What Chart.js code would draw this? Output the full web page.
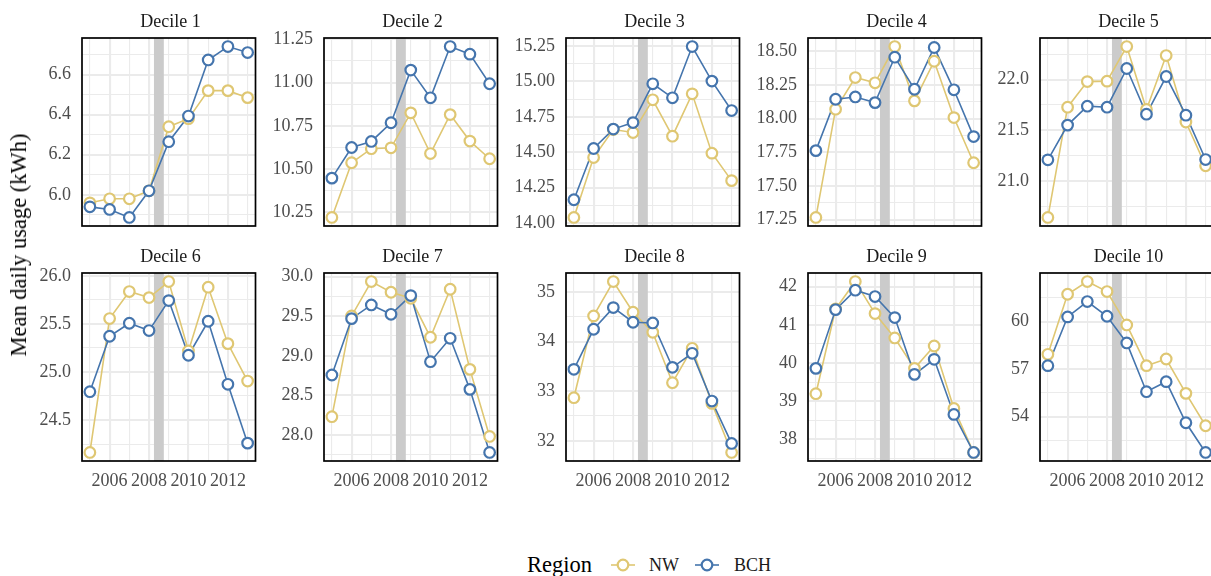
<!DOCTYPE html>
<html>
<head>
<meta charset="utf-8">
<script src="https://cdn.jsdelivr.net/npm/chart.js@4.4.1/dist/chart.umd.min.js"></script>
<style>
  html, body { margin: 0; padding: 0; background: #ffffff; }
  body { width: 1211px; height: 576px; position: relative; overflow: hidden;
         font-family: 'Liberation Serif', 'Times New Roman', serif; }
  canvas { position: absolute; z-index: 1; }
  .strip { position: absolute; z-index: 2; font-size: 18px; line-height: 24px; color: #1a1a1a;
           white-space: nowrap; transform: translate(-50%, -50%); }
  .ytitle { position: absolute; z-index: 2; font-size: 22.5px; line-height: 28px; color: #000;
            white-space: nowrap; left: 19px; top: 245px;
            transform: translate(-50%, -50%) rotate(-90deg); }
  .leg { position: absolute; z-index: 2; white-space: nowrap; transform: translateY(-50%); }
  .leg-title { font-size: 22.5px; line-height: 28px; color: #000; }
  .leg-text { font-size: 18px; line-height: 24px; color: #1a1a1a; }
  .leg-key { position: absolute; z-index: 2; }
</style>
</head>
<body>
<script>
// ---- data -------------------------------------------------------------
const years = [2005, 2006, 2007, 2008, 2009, 2010, 2011, 2012, 2013];
const xTickLabels = ['2006', '2008', '2010', '2012'];
const deciles = ['Decile 1', 'Decile 2', 'Decile 3', 'Decile 4', 'Decile 5',
                 'Decile 6', 'Decile 7', 'Decile 8', 'Decile 9', 'Decile 10'];
const regions = ['NW', 'BCH'];

// mean daily usage (kWh), one row per decile, 2005..2013
const nwUsage = [
  [5.96, 5.98, 5.98, 6.02, 6.34, 6.38, 6.52, 6.52, 6.485],
  [10.221, 10.537, 10.618, 10.623, 10.825, 10.59, 10.815, 10.662, 10.56],
  [14.04, 14.463, 14.661, 14.64, 14.871, 14.614, 14.913, 14.494, 14.30],
  [17.267, 18.07, 18.305, 18.266, 18.535, 18.132, 18.426, 18.008, 17.673],
  [20.638, 21.727, 21.98, 21.984, 22.326, 21.704, 22.237, 21.58, 21.148],
  [24.163, 25.556, 25.837, 25.774, 25.941, 25.219, 25.882, 25.295, 24.906],
  [28.232, 29.503, 29.937, 29.802, 29.726, 29.234, 29.84, 28.829, 27.983],
  [32.87, 34.522, 35.216, 34.596, 34.19, 33.173, 33.868, 32.755, 31.764],
  [39.197, 41.415, 42.131, 41.293, 40.655, 39.86, 40.445, 38.812, 37.66],
  [57.937, 61.726, 62.526, 61.895, 59.789, 57.221, 57.642, 55.474, 53.432]
];
const bchUsage = [
  [5.94, 5.927, 5.887, 6.02, 6.265, 6.393, 6.673, 6.74, 6.71],
  [10.448, 10.625, 10.66, 10.768, 11.072, 10.912, 11.208, 11.164, 10.993],
  [14.165, 14.527, 14.664, 14.71, 14.984, 14.885, 15.247, 15.003, 14.795],
  [17.763, 18.144, 18.161, 18.119, 18.456, 18.218, 18.528, 18.214, 17.867],
  [21.207, 21.55, 21.737, 21.727, 22.109, 21.658, 22.03, 21.648, 21.21],
  [24.795, 25.372, 25.507, 25.431, 25.743, 25.174, 25.528, 24.872, 24.26],
  [28.758, 29.469, 29.642, 29.524, 29.76, 28.926, 29.221, 28.577, 27.781],
  [33.443, 34.252, 34.69, 34.394, 34.38, 33.483, 33.767, 32.802, 31.946],
  [39.86, 41.397, 41.904, 41.738, 41.188, 39.703, 40.096, 38.655, 37.66],
  [57.221, 60.295, 61.263, 60.337, 58.653, 55.579, 56.211, 53.621, 51.747]
];
const yTickLabels = [
  ['6.0', '6.2', '6.4', '6.6'],
  ['10.25', '10.50', '10.75', '11.00', '11.25'],
  ['14.00', '14.25', '14.50', '14.75', '15.00', '15.25'],
  ['17.25', '17.50', '17.75', '18.00', '18.25', '18.50'],
  ['21.0', '21.5', '22.0'],
  ['24.5', '25.0', '25.5', '26.0'],
  ['28.0', '28.5', '29.0', '29.5', '30.0'],
  ['32', '33', '34', '35'],
  ['38', '39', '40', '41', '42'],
  ['54', '57', '60']
];
// shaded period on every panel
const shadeStart = 2008.25, shadeEnd = 2008.75;

// ---- styling / layout ---------------------------------------------------
const FONT = "'Liberation Serif', 'Times New Roman', serif";
const NW_COLOR = '#dfc773';
const BCH_COLOR = '#4575ad';
const GRID = '#ebebeb';
const colLeft = [82, 324, 566, 808, 1040];
const rowTop = [38, 273];
const PW = 177, PH = 188;
const AXW = 64, PADT = 14, PADR = 4, PADB = 14, XAH = 30;

const near = (a, b) => Math.abs(a - b) < 1e-9;
const xMajor = xTickLabels.map(Number);

const panelDecor = {
  id: 'panelDecor',
  beforeDatasetsDraw(chart) {
    const { ctx, chartArea: a, scales: { x } } = chart;
    const x0 = x.getPixelForValue(shadeStart), x1 = x.getPixelForValue(shadeEnd);
    ctx.save();
    ctx.fillStyle = '#cbcbcb';
    ctx.fillRect(x0, a.top, x1 - x0, a.bottom - a.top);
    ctx.restore();
  },
  afterDraw(chart) {
    const { ctx, chartArea: a } = chart;
    ctx.save();
    ctx.strokeStyle = '#000000';
    ctx.lineWidth = 1.7;
    ctx.strokeRect(a.left, a.top, a.right - a.left, a.bottom - a.top);
    ctx.restore();
  }
};

function addDiv(cls, text, left, top) {
  const d = document.createElement('div');
  d.className = cls;
  d.textContent = text;
  d.style.left = left + 'px';
  d.style.top = top + 'px';
  document.body.appendChild(d);
  return d;
}

for (let i = 0; i < deciles.length; i++) {
  const r = Math.floor(i / 5), c = i % 5;
  const nw = nwUsage[i], bch = bchUsage[i];
  const all = nw.concat(bch);
  const lo = Math.min(...all), hi = Math.max(...all);
  const pad = 0.05 * (hi - lo);
  const yMin = lo - pad, yMax = hi + pad;

  const labels = yTickLabels[i];
  const majors = labels.map(Number);
  const half = (majors[1] - majors[0]) / 2;
  let yTicks = [majors[0] - half];
  majors.forEach(m => { yTicks.push(m); yTicks.push(m + half); });
  yTicks = yTicks.filter(v => v >= yMin && v <= yMax);

  const w = AXW + PW + PADR;
  const h = PADT + PH + (r === 1 ? XAH : 0) + PADB;
  const cv = document.createElement('canvas');
  cv.width = w; cv.height = h;
  cv.style.width = w + 'px'; cv.style.height = h + 'px';
  cv.style.left = (colLeft[c] - AXW) + 'px';
  cv.style.top = (rowTop[r] - PADT) + 'px';
  document.body.appendChild(cv);

  addDiv('strip', deciles[i], colLeft[c] + PW / 2, rowTop[r] - 17.5);

  const pts = arr => arr.map((v, k) => ({ x: years[k], y: v }));
  const lineDs = (label, arr, color, order) => ({
    label, data: pts(arr), borderColor: color, borderWidth: 1.6,
    pointRadius: 0, fill: false, tension: 0, order
  });
  const pointDs = (label, arr, color, order) => ({
    label, data: pts(arr), showLine: false, pointRadius: 5.3, pointBorderWidth: 2.2,
    pointBackgroundColor: '#ffffff', pointBorderColor: color, order
  });

  new Chart(cv, {
    type: 'line',
    data: {
      datasets: [
        lineDs(regions[0], nw, NW_COLOR, 4),
        lineDs(regions[1], bch, BCH_COLOR, 3),
        pointDs(regions[0], nw, NW_COLOR, 2),
        pointDs(regions[1], bch, BCH_COLOR, 1)
      ]
    },
    options: {
      responsive: false,
      animation: false,
      devicePixelRatio: 1,
      layout: { padding: { top: PADT, right: PADR, bottom: PADB, left: 0 } },
      plugins: { legend: { display: false }, title: { display: false }, tooltip: { enabled: false } },
      scales: {
        x: {
          type: 'linear', min: 2004.6, max: 2013.4, bounds: 'data',
          afterBuildTicks: s => { s.ticks = years.map(v => ({ value: v })); },
          afterFit: s => { s.height = r === 1 ? XAH : 0; s.paddingLeft = 0; s.paddingRight = 0; },
          border: { display: false },
          grid: {
            color: GRID, drawTicks: false,
            lineWidth: ctx => (ctx.tick && xMajor.some(m => near(m, ctx.tick.value))) ? 2.1 : 1.1
          },
          ticks: {
            display: r === 1, autoSkip: false, maxRotation: 0, minRotation: 0, padding: 9,
            color: '#4d4d4d', font: { family: FONT, size: 18 },
            callback: v => { const k = xMajor.findIndex(m => near(m, v)); return k >= 0 ? xTickLabels[k] : ''; }
          }
        },
        y: {
          type: 'linear', min: yMin, max: yMax, bounds: 'data',
          afterBuildTicks: s => { s.ticks = yTicks.map(v => ({ value: v })); },
          afterFit: s => { s.width = AXW; s.paddingTop = 0; s.paddingBottom = 0; },
          border: { display: false },
          grid: {
            color: GRID, drawTicks: false,
            lineWidth: ctx => (ctx.tick && majors.some(m => Math.abs(m - ctx.tick.value) < 1e-7)) ? 2.1 : 1.1
          },
          ticks: {
            autoSkip: false, padding: 11, color: '#4d4d4d', font: { family: FONT, size: 18 },
            callback: v => { const k = majors.findIndex(m => Math.abs(m - v) < 1e-7); return k >= 0 ? labels[k] : ''; }
          }
        }
      }
    },
    plugins: [panelDecor]
  });
}

// axis title
addDiv('ytitle', 'Mean daily usage (kWh)', 19, 245);

// legend
const legY = 565;
addDiv('leg leg-title', 'Region', 527, legY);
function legendKey(cx, color) {
  const ns = 'http://www.w3.org/2000/svg';
  const svg = document.createElementNS(ns, 'svg');
  svg.setAttribute('width', 30); svg.setAttribute('height', 16);
  svg.setAttribute('class', 'leg-key');
  svg.style.left = (cx - 15) + 'px';
  svg.style.top = (legY - 8) + 'px';
  const ln = document.createElementNS(ns, 'line');
  ln.setAttribute('x1', 3); ln.setAttribute('x2', 27); ln.setAttribute('y1', 8); ln.setAttribute('y2', 8);
  ln.setAttribute('stroke', color); ln.setAttribute('stroke-width', 1.6);
  const ci = document.createElementNS(ns, 'circle');
  ci.setAttribute('cx', 15); ci.setAttribute('cy', 8); ci.setAttribute('r', 5.3);
  ci.setAttribute('fill', '#ffffff'); ci.setAttribute('stroke', color); ci.setAttribute('stroke-width', 2.2);
  svg.appendChild(ln); svg.appendChild(ci);
  document.body.appendChild(svg);
}
legendKey(622.7, NW_COLOR);
addDiv('leg leg-text', regions[0], 649, legY);
legendKey(707.3, BCH_COLOR);
addDiv('leg leg-text', regions[1], 734, legY);
</script>
</body>
</html>
